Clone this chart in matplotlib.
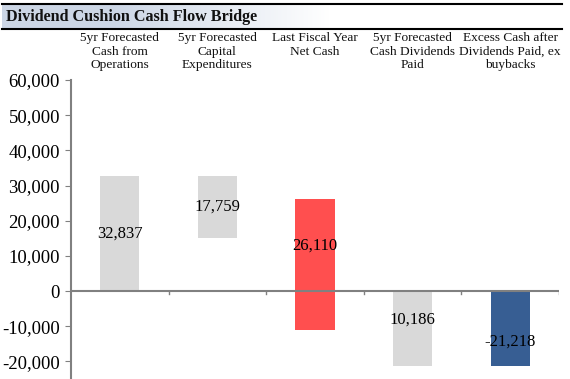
import matplotlib
matplotlib.use("Agg")
import matplotlib.pyplot as plt
import numpy as np
from matplotlib.ticker import FuncFormatter, FixedLocator

categories = ["5yr Forecasted\nCash from\nOperations",
              "5yr Forecasted\nCapital\nExpenditures",
              "Last Fiscal Year\nNet Cash",
              "5yr Forecasted\nCash Dividends\nPaid",
              "Excess Cash after\nDividends Paid, ex\nbuybacks"]
bar_bottoms = [0, 15078, -11032, -21218, -21218]
bar_tops = [32837, 32837, 26110, 0, 0]
labels = ["32,837", "17,759", "26,110", "10,186", "-21,218"]
label_y = [16200, 23900, 12800, -8000, -14400]
colors = ["#D9D9D9", "#D9D9D9", "#FF4F4F", "#D9D9D9", "#375E93"]
yticks = [-20000, -10000, 0, 10000, 20000, 30000, 40000, 50000, 60000]

plt.rcParams['font.family'] = ['Liberation Serif', 'DejaVu Serif']

fig = plt.figure(figsize=(5.70, 3.79), dpi=100)
W, H = 570, 379

# Title bar with gradient
tax = fig.add_axes([0, 0, 1, 1], zorder=0)
tax.set_xlim(0, W)
tax.set_ylim(H, 0)
tax.axis("off")
grad = np.linspace(1, 0, 256)
c0 = np.array([0.80, 0.84, 0.90])
c1 = np.array([1.0, 1.0, 1.0])
img = np.array([[c0 * g + c1 * (1 - g) for g in np.clip(grad * 1.5, 0, 1)]])
tax.imshow(img, extent=[2, 330, 28, 4], aspect="auto", zorder=0)
tax.plot([2, 562], [3.5, 3.5], color="black", lw=1.5, zorder=2)
tax.plot([2, 562], [28.5, 28.5], color="black", lw=1.5, zorder=2)
tax.text(6, 17, "Dividend Cushion Cash Flow Bridge", fontsize=11.6,
         fontweight="bold", va="center", ha="left", color="#111111", zorder=3)

ax = fig.add_axes([71 / W, 0, (559 - 71) / W, (379 - 80) / H], zorder=1)
ax.patch.set_alpha(0)
x = np.arange(len(categories))
heights = [t - b for t, b in zip(bar_tops, bar_bottoms)]
ax.bar(x, heights, bottom=bar_bottoms, width=0.4, color=colors, zorder=2)
for xi, lab, ly in zip(x, labels, label_y):
    ax.text(xi, ly, lab, ha="center", va="center", fontsize=12, color="black", zorder=3)

ax.set_xlim(-0.5, 4.5)
ax.set_ylim(-25000, 60000)
ax.yaxis.set_major_locator(FixedLocator(yticks))
ax.yaxis.set_major_formatter(FuncFormatter(lambda v, p: f"{int(v):,}"))
ax.tick_params(axis="y", labelsize=13.5, length=4, color="#808080", direction="out", pad=4)
for s in ["top", "right", "bottom"]:
    ax.spines[s].set_visible(False)
ax.spines["left"].set_color("#808080")
ax.spines["left"].set_linewidth(1.5)
ax.axhline(0, color="#808080", lw=1.5, zorder=3)
ax.set_xticks([])
for b in np.arange(0.5, 5.0, 1.0):
    ax.plot([b, b], [0, -900], color="#808080", lw=1, zorder=3)

for xi, cat in zip(x, categories):
    ax.text(xi, 1.0 + 48 / (379 - 80), cat, transform=ax.get_xaxis_transform(),
            ha="center", va="top", fontsize=9.6, linespacing=1.17, color="#111111")

fig.savefig("out.png", dpi=100)
